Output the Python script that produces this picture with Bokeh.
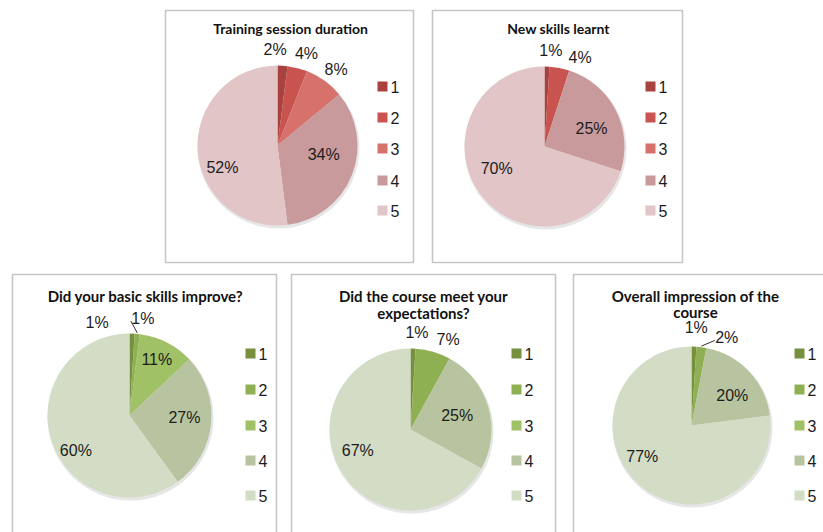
import math
from bokeh.plotting import figure
from bokeh.models import Range1d
from bokeh.core.properties import value
from bokeh.embed import file_html
from bokeh.resources import INLINE

# ---------------- data ----------------
categories = ["1", "2", "3", "4", "5"]
training_duration = [2, 4, 8, 34, 52]
new_skills = [1, 4, 0, 25, 70]
basic_skills = [1, 1, 11, 27, 60]
met_expectations = [1, 7, 0, 25, 67]
overall_impression = [1, 2, 0, 20, 77]

titles = [
    ["Training session duration"],
    ["New skills learnt"],
    ["Did your basic skills improve?"],
    ["Did the course meet your", "expectations?"],
    ["Overall impression of the", "course"],
]
series = [training_duration, new_skills, basic_skills, met_expectations, overall_impression]

red_palette = ["#a9423e", "#c9534e", "#d6716c", "#c99a9b", "#e2c5c6"]
green_palette = ["#77903e", "#8eb052", "#a1c166", "#b8c49f", "#d3dcc4"]

# ---------------- layout (pixels, y from top) ----------------
W, H = 823, 532
layout = [
    dict(box=(165, 10, 413, 262), c=(277, 145), R=80, ty=[28], tx=290, tfs="14px",
         lx=382, ly=[86, 117, 148, 180, 210], pal=red_palette,
         nudge=[-5, -5, -4, -10, -18], rf=[1.2, 1.2, 1.2, 0.59, 0.74], leaders=[]),
    dict(box=(432, 10, 682, 262), c=(544, 146), R=80, ty=[28], tx=558, tfs="14px",
         lx=650, ly=[86, 117, 148, 180, 210], pal=red_palette,
         nudge=[2, 1, 0, 6, 11], rf=[1.2, 1.2, 1.2, 0.63, 0.66], leaders=[]),
    dict(box=(12, 274, 276, 545), c=(129, 415), R=82, ty=[295], tx=145, tfs="15px",
         lx=250, ly=[353, 389, 425, 460, 495], pal=green_palette,
         nudge=[-21, -13, -1, -3, -15], rf=[1.2, 1.2, 0.76, 0.67, 0.78], leaders=[1]),
    dict(box=(291, 274, 555, 545), c=(410, 429), R=81, ty=[295, 312], tx=423, tfs="15px",
         lx=516, ly=[353, 389, 425, 460, 495], pal=green_palette,
         nudge=[2, 2, 0, 0, 9], rf=[1.2, 1.2, 1.2, 0.6, 0.70], leaders=[]),
    dict(box=(573, 274, 830, 545), c=(691, 425), R=79, ty=[295, 311], tx=695, tfs="15px",
         lx=799, ly=[353, 389, 425, 460, 495], pal=green_palette,
         nudge=[1, 1, 0, 7, 16], rf=[1.24, 1.2, 1.2, 0.64, 0.74], leaders=[1]),
]


def Y(y):
    return H - y


p = figure(width=W, height=H, output_backend="svg", toolbar_location=None,
           x_range=Range1d(0, W), y_range=Range1d(0, H), min_border=0)
p.axis.visible = False
p.grid.visible = False
p.outline_line_color = None
p.background_fill_color = "white"
p.border_fill_color = "white"

TXT = "#1c1c1c"

for vals, ttl, L in zip(series, titles, layout):
    l, t, r, b = L["box"]
    p.quad(left=[l], right=[r], top=[Y(t)], bottom=[Y(b)], fill_color="white",
           line_color="#c6c6c6", line_width=1.6)

    # title
    for i, line in enumerate(ttl):
        p.text(x=[L["tx"]], y=[Y(L["ty"][i])], text=[line], text_align="center",
               text_baseline="middle", text_font=value("Lato"), text_font_style="bold",
               text_font_size=L["tfs"], text_color="#111111")

    cx, cy = L["c"]
    R = L["R"]
    total = float(sum(vals))

    # subtle shadow
    p.circle(x=[cx + 1], y=[Y(cy + 2)], radius=R + 1, radius_units="screen",
             fill_color="#9a9a9a", fill_alpha=0.25, line_color=None)

    cum = 0.0
    mids = []
    for k, v in enumerate(vals):
        f0 = cum / total
        cum += v
        f1 = cum / total
        mids.append((f0 + f1) / 2 * 360.0)
        if v <= 0:
            continue
        p.wedge(x=[cx], y=[Y(cy)], radius=R, radius_units="screen",
                start_angle=math.pi / 2 - 2 * math.pi * f0,
                end_angle=math.pi / 2 - 2 * math.pi * f1,
                direction="clock", fill_color=L["pal"][k], line_color=None)

    # labels
    prev = None
    lab_x, lab_y, lab_t = [], [], []
    for k, v in enumerate(vals):
        if v <= 0:
            continue
        mid = mids[k]
        rr = L["rf"][k] * R
        ang = mid
        if v < 10:
            if prev is not None and ang - prev < 19:
                ang = prev + 19
            prev = ang
        ang += L["nudge"][k]
        a = math.radians(ang)
        px_, py_ = cx + rr * math.sin(a), cy - rr * math.cos(a)
        if k in L["leaders"]:
            a0 = math.radians(mid)
            sx, sy = cx + R * math.sin(a0), cy - R * math.cos(a0)
            p.segment(x0=[sx], y0=[Y(sy - 1)], x1=[px_ - 12], y1=[Y(py_ + 3)],
                      line_color="#333333", line_width=1)
        lab_x.append(px_)
        lab_y.append(Y(py_))
        lab_t.append(f"{v}%")
    p.text(x=lab_x, y=lab_y, text=lab_t, text_align="center", text_baseline="middle",
           text_font=value("Liberation Sans"), text_font_size="16px", text_color=TXT)

    # legend
    p.scatter(x=[L["lx"]] * 5, y=[Y(v) for v in L["ly"]], marker="square", size=10,
              fill_color=L["pal"], line_color=None)
    p.text(x=[L["lx"] + 8] * 5, y=[Y(v) for v in L["ly"]], text=categories,
           text_align="left", text_baseline="middle", text_font=value("Liberation Sans"),
           text_font_size="16px", text_color=TXT)

open("out.html", "w").write(file_html(p, INLINE))
